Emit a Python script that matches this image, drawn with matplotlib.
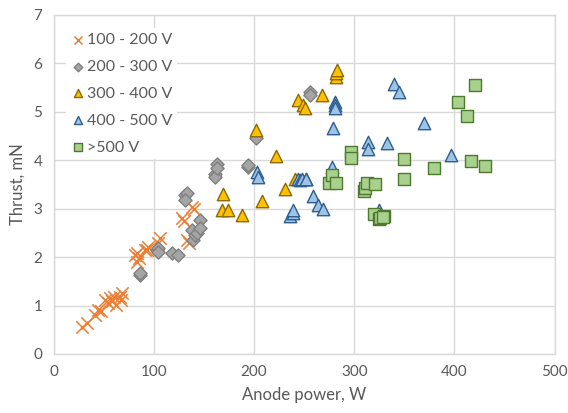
import matplotlib
matplotlib.use("Agg")
import matplotlib.pyplot as plt

plt.rcParams['font.family'] = ['Lato', 'DejaVu Sans']

# Series data (Anode power W, Thrust mN)
s100_x = [28, 33, 41.5, 44.7, 47, 51, 54, 56, 58, 60, 62, 66, 68, 67,
          81, 83, 83, 85, 91, 93, 94.5, 104, 106, 128, 130, 133, 135, 138, 140]
s100_y = [0.56, 0.63, 0.80, 0.91, 0.88, 1.11, 1.05, 1.15, 1.10, 1.18, 1.02, 1.18, 1.25, 1.12,
          2.04, 1.90, 2.08, 1.98, 2.15, 2.15, 2.21, 2.30, 2.39, 2.80, 2.75, 2.35, 2.28, 3.04, 3.00]

s200_x = [86, 86, 103, 104.5, 104.5, 118, 124.5, 131, 133, 131, 138, 139.5, 141, 143.5,
          146, 146, 161, 161, 162.7, 162.7, 194, 194, 202, 255.6, 255.6]
s200_y = [1.63, 1.68, 2.15, 2.18, 2.10, 2.08, 2.04, 3.28, 3.33, 3.18, 2.56, 2.35, 2.45, 2.50,
          2.76, 2.59, 3.72, 3.66, 3.93, 3.83, 3.86, 3.90, 4.45, 5.41, 5.35]

s300_x = [169, 168, 174, 188, 202, 208, 222, 231, 241, 244, 249, 251, 268, 282, 282, 283]
s300_y = [3.31, 2.98, 2.98, 2.87, 4.62, 3.16, 4.08, 3.40, 3.62, 5.24, 5.14, 5.07, 5.34, 5.72, 5.79, 5.85]

s400_x = [202.6, 204, 236, 238.5, 238.5, 244, 246, 248, 251.4, 252, 259, 264, 269, 278, 278.4,
          280.6, 280.6, 280.6, 314, 314, 325, 333, 339.5, 344.5, 370, 397]
s400_y = [3.76, 3.66, 2.85, 2.90, 2.97, 3.62, 3.59, 3.60, 3.62, 3.62, 3.25, 3.07, 3.00, 3.86, 4.66,
          5.20, 5.14, 5.07, 4.38, 4.22, 2.97, 4.36, 5.58, 5.41, 4.77, 4.10]

s500_x = [275, 278, 282.3, 296.3, 296.3, 309.5, 310.5, 312.3, 320.5, 319.5, 324.5, 325.5, 329.5,
          328.8, 349.5, 349.8, 379.7, 403.6, 412.6, 416, 420.2, 430.5]
s500_y = [3.53, 3.69, 3.52, 4.17, 4.04, 3.36, 3.42, 3.52, 3.50, 2.88, 2.79, 2.81, 2.85,
          2.83, 3.62, 4.02, 3.84, 5.20, 4.91, 3.99, 5.54, 3.88]

labels = ['100 - 200 V', '200 - 300 V', '300 - 400 V', '400 - 500 V', '>500 V']
x_ticks = [0, 100, 200, 300, 400, 500]
y_ticks = [0, 1, 2, 3, 4, 5, 6, 7]

text_col = '#595959'
grid_col = '#D9D9D9'

fig = plt.figure(figsize=(5.68, 4.13), dpi=100)
ax = fig.add_axes([0.0942, 0.1429, 0.8824, 0.8215])

ax.scatter(s100_x, s100_y, marker='x', s=80, color='#ED7D31', linewidths=1.1, label=labels[0], zorder=3)
ax.scatter(s200_x, s200_y, marker='D', s=45, facecolor='#A5A5A5', edgecolor='#808080', linewidths=1.0, label=labels[1], zorder=3)
ax.scatter(s300_x, s300_y, marker='^', s=80, facecolor='#FFC000', edgecolor='#8C6A00', linewidths=1.0, label=labels[2], zorder=3)
ax.scatter(s400_x, s400_y, marker='^', s=80, facecolor='#9DC3E6', edgecolor='#2E5E8F', linewidths=1.0, label=labels[3], zorder=3)
ax.scatter(s500_x, s500_y, marker='s', s=70, facecolor='#A9D18E', edgecolor='#4E7A30', linewidths=1.0, label=labels[4], zorder=3)

ax.set_xlim(0, 500)
ax.set_ylim(0, 7)
ax.set_xticks(x_ticks)
ax.set_yticks(y_ticks)
ax.grid(True, color=grid_col, linewidth=1.0, zorder=0)
ax.set_axisbelow(True)
for sp in ax.spines.values():
    sp.set_color(grid_col)
    sp.set_linewidth(1.0)
ax.tick_params(length=0, labelsize=11, colors=text_col, pad=8)
ax.set_xlabel('Anode power, W', fontsize=12, color=text_col, labelpad=6)
ax.set_ylabel('Thrust, mN', fontsize=12, color=text_col, labelpad=6)

leg = ax.legend(loc='upper left', bbox_to_anchor=(0.008, 0.985), frameon=True, fontsize=11.5,
                handletextpad=0.05, handlelength=1.0, labelspacing=0.8, borderpad=0.3,
                markerscale=0.65, labelcolor=text_col)
leg.get_frame().set_facecolor('white')
leg.get_frame().set_edgecolor('none')
leg.get_frame().set_alpha(1.0)

fig.savefig('out.png', dpi=100)
